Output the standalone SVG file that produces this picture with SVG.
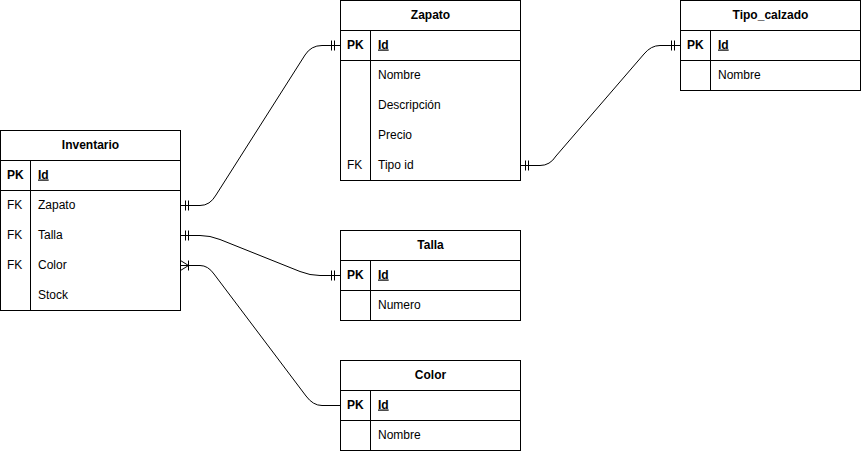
<svg xmlns="http://www.w3.org/2000/svg" width="861" height="451" viewBox="0 0 861 451">
<defs>
<style>
.box{fill:#fff;stroke:#000;stroke-width:1}
.ln{stroke:#000;stroke-width:1;fill:none}
text{font-family:"Liberation Sans",Arial,Helvetica,sans-serif;font-size:12px;fill:#000}
.t{font-weight:bold;text-anchor:middle}
.k{font-weight:bold}
.u{font-weight:bold;text-decoration:underline}
</style>
</defs>
<rect width="861" height="451" fill="#fff"/>
<g id="connectors" class="ln">
<path d="M180.5 205.5 H200 Q210 205.5 216 195 L305 55 Q311 45.5 322 45.5 H340.5"/>
<path d="M185.5 200.5 V210.5 M188.5 200.5 V210.5 M331.5 40.5 V50.5 M334.5 40.5 V50.5"/>
<path d="M520.5 165.5 H540 Q550 165.5 556 156 L644 54 Q651 45.5 660 45.5 H680.5"/>
<path d="M525.5 160.5 V170.5 M528.5 160.5 V170.5 M671.5 40.5 V50.5 M674.5 40.5 V50.5"/>
<path d="M180.5 235.5 H200 Q210 235.5 220 239.5 L300 271.5 Q310 275.5 320 275.5 H340.5"/>
<path d="M185.5 230.5 V240.5 M188.5 230.5 V240.5 M331.5 270.5 V280.5 M334.5 270.5 V280.5"/>
<path d="M180.5 265.5 H200 Q208 265.5 214 274 L306 396 Q313 405.5 322 405.5 H340.5"/>
<path d="M180.5 260.5 L188.5 265.5 L180.5 270.5 M188.5 260.5 V270.5"/>
</g>
<g id="Inventario">
<rect class="box" x="0.5" y="130.5" width="180" height="180"/>
<path class="ln" d="M0.5 160.5 H180.5 M0.5 190.5 H180.5 M30.5 160.5 V310.5"/>
<text class="t" x="90.5" y="148.5">Inventario</text>
<text class="k" x="7" y="178.5">PK</text><text class="u" x="38" y="178.5">Id</text>
<text x="7" y="208.5">FK</text><text x="38" y="208.5">Zapato</text>
<text x="7" y="238.5">FK</text><text x="38" y="238.5">Talla</text>
<text x="7" y="268.5">FK</text><text x="38" y="268.5">Color</text>
<text x="38" y="298.5">Stock</text>
</g>
<g id="Zapato">
<rect class="box" x="340.5" y="0.5" width="180" height="180"/>
<path class="ln" d="M340.5 30.5 H520.5 M340.5 60.5 H520.5 M370.5 30.5 V180.5"/>
<text class="t" x="430.5" y="18.5">Zapato</text>
<text class="k" x="347" y="48.5">PK</text><text class="u" x="378" y="48.5">Id</text>
<text x="378" y="78.5">Nombre</text>
<text x="378" y="108.5">Descripción</text>
<text x="378" y="138.5">Precio</text>
<text x="347" y="168.5">FK</text><text x="378" y="168.5">Tipo id</text>
</g>
<g id="Tipo_calzado">
<rect class="box" x="680.5" y="0.5" width="180" height="90"/>
<path class="ln" d="M680.5 30.5 H860.5 M680.5 60.5 H860.5 M710.5 30.5 V90.5"/>
<text class="t" x="770.5" y="18.5">Tipo_calzado</text>
<text class="k" x="687" y="48.5">PK</text><text class="u" x="718" y="48.5">Id</text>
<text x="718" y="78.5">Nombre</text>
</g>
<g id="Talla">
<rect class="box" x="340.5" y="230.5" width="180" height="90"/>
<path class="ln" d="M340.5 260.5 H520.5 M340.5 290.5 H520.5 M370.5 260.5 V320.5"/>
<text class="t" x="430.5" y="248.5">Talla</text>
<text class="k" x="347" y="278.5">PK</text><text class="u" x="378" y="278.5">Id</text>
<text x="378" y="308.5">Numero</text>
</g>
<g id="Color">
<rect class="box" x="340.5" y="360.5" width="180" height="90"/>
<path class="ln" d="M340.5 390.5 H520.5 M340.5 420.5 H520.5 M370.5 390.5 V450.5"/>
<text class="t" x="430.5" y="378.5">Color</text>
<text class="k" x="347" y="408.5">PK</text><text class="u" x="378" y="408.5">Id</text>
<text x="378" y="438.5">Nombre</text>
</g>
</svg>
